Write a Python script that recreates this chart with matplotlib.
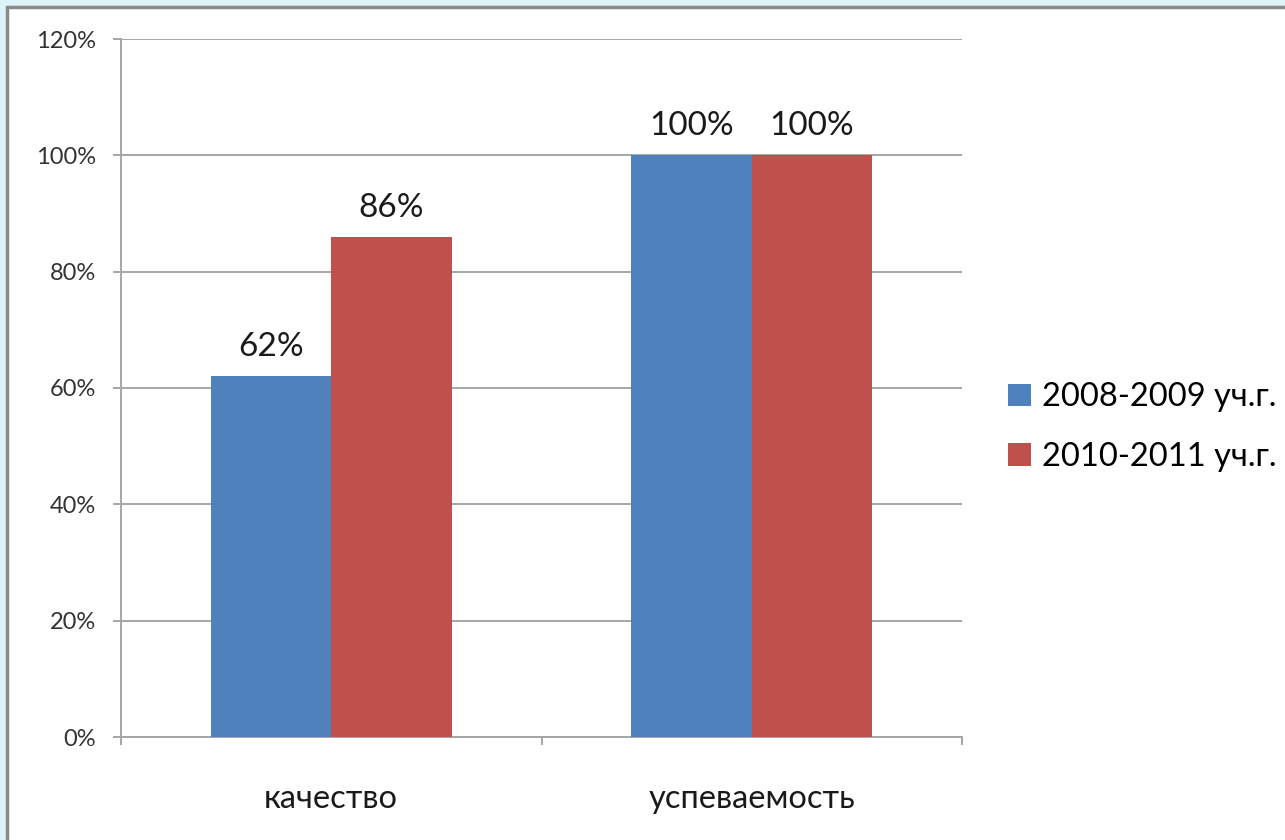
import matplotlib.pyplot as plt
from matplotlib.patches import Rectangle
from matplotlib.ticker import PercentFormatter
import numpy as np

plt.rcParams["font.family"] = ["Lato", "DejaVu Sans"]

# ------------------------------------------------------------------
# Data
# ------------------------------------------------------------------

categories = ["качество", "успеваемость"]
series_names = ["2008-2009 уч.г.", "2010-2011 уч.г."]
values_2008 = [62, 100]
values_2010 = [86, 100]
colors = ["#4f81bd", "#c0504d"]

# ------------------------------------------------------------------

fig = plt.figure(figsize=(12.85, 8.4), dpi=100)
fig.patch.set_facecolor("#def3f8")

# white slide panel with grey edge (drawn underneath the axes)
panel = Rectangle((7 / 1285, -0.05), 1.1, (840 - 7) / 840 + 0.05,
                  transform=fig.transFigure, facecolor="white",
                  edgecolor="#8a8a8a", linewidth=2.5, zorder=-10)
fig.patches.append(panel)

ax = fig.add_axes([121 / 1285, 103 / 840, 841 / 1285, 698 / 840])
ax.set_facecolor("white")

x = np.arange(len(categories))
width = 0.2866

bars1 = ax.bar(x - width / 2, values_2008, width, color=colors[0],
               label=series_names[0], zorder=3)
bars2 = ax.bar(x + width / 2, values_2010, width, color=colors[1],
               label=series_names[1], zorder=3)

for bars in (bars1, bars2):
    ax.bar_label(bars, labels=[f"{v}%" for v in bars.datavalues],
                 padding=10, fontsize=24, color="#1a1a1a")

ax.set_xlim(-0.5, 1.5)
ax.set_ylim(0, 120)
ax.set_yticks(range(0, 121, 20))
ax.yaxis.set_major_formatter(PercentFormatter(decimals=0))
ax.grid(axis="y", color="#a6a6a6", linewidth=1.4, zorder=0)

ax.set_xticks([-0.5, 0.5, 1.5])
ax.set_xticklabels([])
ax.set_xticks(x, minor=True)
ax.set_xticklabels(categories, minor=True, fontsize=23.5, color="#1a1a1a")
ax.tick_params(axis="x", which="major", length=6, width=1.4,
               color="#a6a6a6", direction="out")
ax.tick_params(axis="x", which="minor", length=0, pad=34)
ax.tick_params(axis="y", length=6, width=1.4, color="#a6a6a6",
               labelsize=17, labelcolor="#333333", pad=12)

for side in ("top", "right"):
    ax.spines[side].set_visible(False)
for side in ("left", "bottom"):
    ax.spines[side].set_color("#a6a6a6")
    ax.spines[side].set_linewidth(1.4)

ax.legend(loc="center left", bbox_to_anchor=(0.0547 + 1, 0.444),
          frameon=False, fontsize=23.5, handlelength=0.7, handleheight=0.7,
          handletextpad=0.35, labelspacing=0.9, borderaxespad=0,
          borderpad=0)

fig.savefig("out.png", dpi=100, facecolor=fig.get_facecolor())
